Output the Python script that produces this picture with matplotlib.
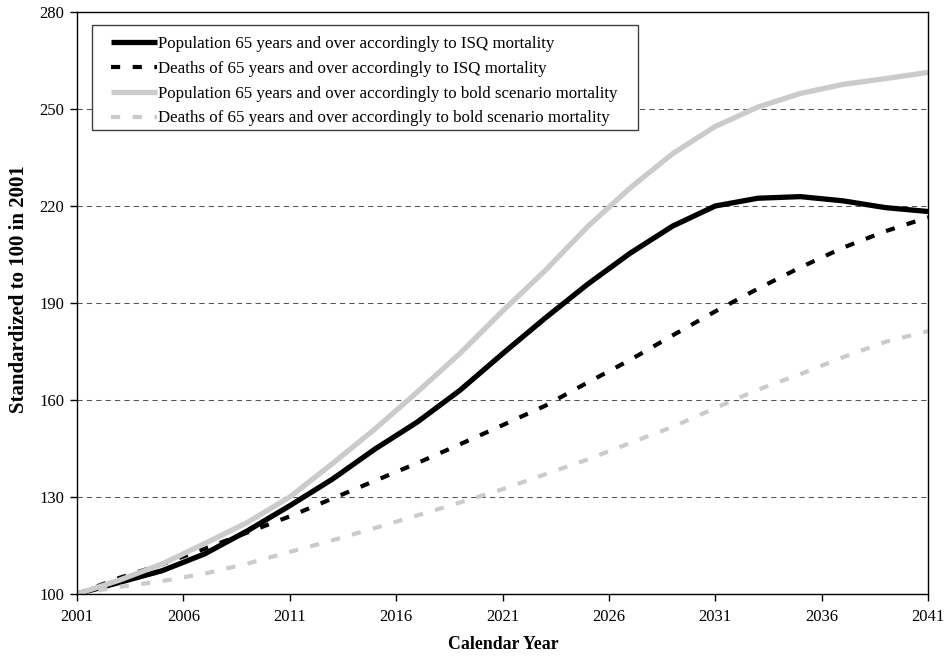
import matplotlib
matplotlib.use("Agg")
import matplotlib.pyplot as plt
from matplotlib.patches import Rectangle

plt.rcParams['font.family'] = ['Liberation Serif', 'DejaVu Serif']

##### DATA #####
years = [2001, 2003, 2005, 2007, 2009, 2011, 2013, 2015, 2017, 2019, 2021,
         2023, 2025, 2027, 2029, 2031, 2033, 2035, 2037, 2039, 2041]

# population 65+ , ISQ mortality
pop_isq = [100, 103.6, 107.2, 112.4, 119.5, 127.3, 135.5, 144.8, 153.2, 163.0, 174.3,
           185.3, 195.8, 205.4, 213.8, 220.0, 222.4, 222.9, 221.6, 219.5, 218.3]
# deaths 65+ , ISQ mortality
dth_isq = [100, 105.0, 109.2, 114.0, 119.0, 124.0, 129.5, 135.0, 140.5, 146.3, 152.2,
           158.2, 165.4, 172.4, 180.0, 187.4, 194.4, 201.0, 207.1, 212.2, 216.5]
# population 65+ , bold scenario mortality
pop_bold = [100, 104.3, 109.3, 115.6, 122.1, 130.0, 140.3, 151.0, 162.5, 174.4, 187.5,
            200.0, 213.6, 225.6, 236.2, 244.6, 250.6, 254.8, 257.6, 259.4, 261.3]
# deaths 65+ , bold scenario mortality
dth_bold = [100, 102.2, 104.0, 106.3, 109.4, 113.0, 116.6, 120.4, 124.3, 128.3, 132.4,
            137.0, 141.6, 146.7, 151.7, 157.5, 163.2, 168.0, 173.2, 178.0, 181.3]

x_ticks = [2001, 2006, 2011, 2016, 2021, 2026, 2031, 2036, 2041]
y_ticks = [100, 130, 160, 190, 220, 250, 280]

labels = ["Population 65 years and over accordingly to ISQ mortality",
          "Deaths of 65 years and over accordingly to ISQ mortality",
          "Population 65 years and over accordingly to bold scenario mortality",
          "Deaths of 65 years and over accordingly to bold scenario mortality"]

GRAY = "#CBCBCB"

##### FIGURE #####
W, H = 950, 659
# plot area in pixels
x0, x1, y0, y1 = 77, 928, 12, 594
fig = plt.figure(figsize=(W/100, H/100), dpi=100)
ax = fig.add_axes([x0/W, 1-y1/H, (x1-x0)/W, (y1-y0)/H])

def ax_xy(px, py):
    # pixel position -> axes fraction
    return (px-x0)/(x1-x0), (y1-py)/(y1-y0)

# grid
ax.grid(axis='y', color='#555555', linestyle=(0, (5, 4)), linewidth=0.75)
ax.set_axisbelow(True)

# data
kw = dict(solid_joinstyle='round', solid_capstyle='butt')
ax.plot(years, pop_isq, '-', color='black', linewidth=3.8, label=labels[0], **kw)
ax.plot(years, dth_isq, color='black', linewidth=3.0, dashes=(2.2, 3.0), label=labels[1])
ax.plot(years, pop_bold, '-', color=GRAY, linewidth=3.8, label=labels[2], **kw)
ax.plot(years, dth_bold, color=GRAY, linewidth=3.0, dashes=(2.2, 3.0), label=labels[3])

# axes
ax.set_xlim(2001, 2041)
ax.set_ylim(100, 280)
ax.set_xticks(x_ticks)
ax.set_yticks(y_ticks)
ax.tick_params(axis='both', direction='out', length=5, width=1, labelsize=12, pad=4)
ax.tick_params(axis='x', pad=6)
for s in ax.spines.values():
    s.set_linewidth(1.0)
    s.set_color('black')

ax.set_xlabel("Calendar Year", fontsize=12.8, fontweight='bold')
ax.set_ylabel("Standardized to 100 in 2001", fontsize=15, fontweight='bold')
ax.xaxis.set_label_coords(*ax_xy(503, 636))
ax.yaxis.set_label_coords(*ax_xy(29, 289))

# legend box (drawn separately to get Excel-like padding)
bx, by = ax_xy(92, 130)
bw = (638-92)/(x1-x0)
bh = (130-25)/(y1-y0)
ax.add_patch(Rectangle((bx, by), bw, bh, transform=ax.transAxes, facecolor='white',
                       edgecolor='#404040', linewidth=1.0, zorder=4.5, clip_on=False))
leg = ax.legend(loc='upper left', bbox_to_anchor=ax_xy(111, 36),
                borderaxespad=0, borderpad=0, fontsize=12.2, frameon=False,
                handlelength=2.7, handletextpad=0.05, labelspacing=0.52)
leg.set_zorder(5)

plt.savefig("out.png", dpi=100)
plt.close()
